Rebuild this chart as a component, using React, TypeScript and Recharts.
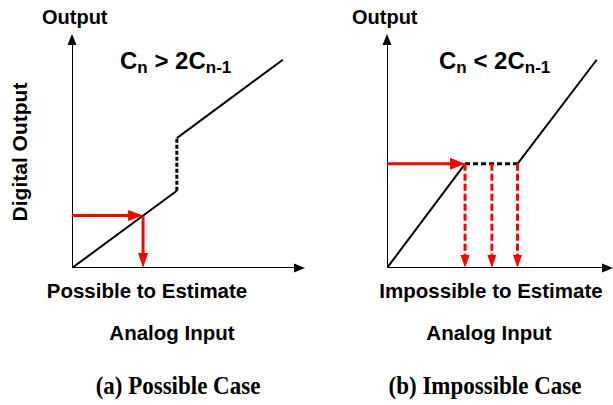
import React from "react";
import { LineChart, Line, XAxis, YAxis, ReferenceDot } from "recharts";

type Pt = { x: number; y: number };

// Panel (a): gap between segments is a step up, so each output maps back to one input
const aLow: Pt[] = [{ x: 0, y: 0 }, { x: 4.5, y: 3.3 }];
const aJump: Pt[] = [{ x: 4.5, y: 3.3 }, { x: 4.5, y: 5.55 }];
const aHigh: Pt[] = [{ x: 4.5, y: 5.55 }, { x: 9.05, y: 8.9 }];
const aEstimate: Pt = { x: 3.05, y: 2.24 };

// Panel (b): flat stretch, one output code covers several inputs
const bLow: Pt[] = [{ x: 0, y: 0 }, { x: 3.35, y: 4.45 }];
const bFlat: Pt[] = [{ x: 3.35, y: 4.45 }, { x: 5.6, y: 4.45 }];
const bHigh: Pt[] = [{ x: 5.6, y: 4.45 }, { x: 9.0, y: 8.9 }];
const bLevel = 4.45;
const bDrops: number[] = [3.35, 4.5, 5.6];

const xAxisEnd = [10, 9.7];
const yAxisEnd = 10;

const SANS = "'Liberation Sans', Arial, sans-serif";
const SERIF = "'Liberation Serif', 'Times New Roman', serif";
const RED = "#ff0000";

type Dir = "up" | "down" | "right";

const arrowHead = (dir: Dir, color: string, len: number, half: number) =>
  (props: any) => {
    const { cx, cy } = props;
    let pts = "";
    if (dir === "up") pts = `${cx},${cy} ${cx - half},${cy + len} ${cx + half},${cy + len}`;
    if (dir === "down") pts = `${cx},${cy} ${cx - half},${cy - len} ${cx + half},${cy - len}`;
    if (dir === "right") pts = `${cx},${cy} ${cx - len},${cy - half} ${cx - len},${cy + half}`;
    return <polygon points={pts} fill={color} stroke="none" />;
  };

const seg = (key: string, data: Pt[], color: string, width: number, dash?: string) => (
  <Line
    key={key}
    data={data}
    dataKey="y"
    type="linear"
    stroke={color}
    strokeWidth={width}
    strokeDasharray={dash}
    strokeLinecap="butt"
    dot={false}
    activeDot={false}
    isAnimationActive={false}
  />
);

function Axes({ xEnd }: { xEnd: number }) {
  return [
    seg("ax", [{ x: 0, y: 0 }, { x: xEnd - 0.2, y: 0 }], "#000", 2),
    seg("ay", [{ x: 0, y: 0 }, { x: 0, y: yAxisEnd - 0.2 }], "#000", 2),
  ];
}

const chartMargin = { top: 34, right: 5, bottom: 32, left: 72 };

function PanelA() {
  return (
    <LineChart width={310} height={300} margin={chartMargin}>
      <XAxis type="number" dataKey="x" domain={[0, 10]} hide allowDataOverflow />
      <YAxis type="number" dataKey="y" domain={[0, 10]} hide allowDataOverflow />
      {Axes({ xEnd: xAxisEnd[0] })}
      {seg("low", aLow, "#000", 2)}
      {seg("jump", aJump, "#000", 3, "4 2")}
      {seg("high", aHigh, "#000", 2)}
      {seg("inH", [{ x: 0, y: aEstimate.y }, { x: aEstimate.x - 0.3, y: aEstimate.y }], RED, 3)}
      {seg("inV", [{ x: aEstimate.x, y: aEstimate.y }, { x: aEstimate.x, y: 0.3 }], RED, 3)}
      <ReferenceDot x={0} y={yAxisEnd} r={1} shape={arrowHead("up", "#000", 11, 4.5)} />
      <ReferenceDot x={xAxisEnd[0]} y={0} r={1} shape={arrowHead("right", "#000", 11, 4.5)} />
      <ReferenceDot x={aEstimate.x} y={aEstimate.y} r={1} shape={arrowHead("right", RED, 15, 5.5)} />
      <ReferenceDot x={aEstimate.x} y={0} r={1} shape={arrowHead("down", RED, 15, 5)} />
    </LineChart>
  );
}

function PanelB() {
  return (
    <LineChart width={310} height={300} margin={chartMargin}>
      <XAxis type="number" dataKey="x" domain={[0, 10]} hide allowDataOverflow />
      <YAxis type="number" dataKey="y" domain={[0, 10]} hide allowDataOverflow />
      {Axes({ xEnd: xAxisEnd[1] })}
      {seg("low", bLow, "#000", 2)}
      {seg("flat", bFlat, "#000", 3, "5 3")}
      {seg("high", bHigh, "#000", 2)}
      {seg("inH", [{ x: 0, y: bLevel }, { x: bDrops[0] - 0.3, y: bLevel }], RED, 3)}
      {bDrops.map((d, i) =>
        seg(`drop${i}`, [{ x: d, y: bLevel }, { x: d, y: 0.3 }], RED, 3, "7 3")
      )}
      <ReferenceDot x={0} y={yAxisEnd} r={1} shape={arrowHead("up", "#000", 11, 4.5)} />
      <ReferenceDot x={xAxisEnd[1]} y={0} r={1} shape={arrowHead("right", "#000", 11, 4.5)} />
      <ReferenceDot x={bDrops[0]} y={bLevel} r={1} shape={arrowHead("right", RED, 15, 6)} />
      {bDrops.map((d, i) => (
        <ReferenceDot key={i} x={d} y={0} r={1} shape={arrowHead("down", RED, 13, 4.5)} />
      ))}
    </LineChart>
  );
}

function Relation({ x, op }: { x: number; op: string }) {
  return (
    <text x={x} y={69} fontFamily={SANS} fontWeight="bold" fontSize={24} fill="#000">
      C<tspan fontSize={17} dy={4}>n</tspan>
      <tspan dy={-4}>{` ${op} 2C`}</tspan>
      <tspan fontSize={17} dy={4}>n-1</tspan>
    </text>
  );
}

export default function App() {
  return (
    <div
      style={{
        position: "absolute",
        left: 0,
        top: 0,
        width: 613,
        height: 405,
        background: "#fff",
        overflow: "hidden",
      }}
    >
      <div style={{ position: "absolute", left: 0, top: 0 }}>
        <PanelA />
      </div>
      <div style={{ position: "absolute", left: 315, top: 0 }}>
        <PanelB />
      </div>
      <svg
        width={613}
        height={405}
        style={{ position: "absolute", left: 0, top: 0, pointerEvents: "none" }}
      >
        <g fontFamily={SANS} fontWeight="bold" fill="#000" fontSize={20}>
          <text x={42} y={24}>Output</text>
          <text x={352} y={24}>Output</text>
          <text
            transform="translate(27,152) rotate(-90)"
            textAnchor="middle"
            fontSize={21}
          >
            Digital Output
          </text>
          <text x={147} y={298} fontSize={20.5} textAnchor="middle">Possible to Estimate</text>
          <text x={491} y={298} fontSize={20.5} textAnchor="middle">Impossible to Estimate</text>
          <text x={172} y={340} fontSize={20.5} textAnchor="middle">Analog Input</text>
          <text x={489} y={340} fontSize={20.5} textAnchor="middle">Analog Input</text>
        </g>
        <Relation x={120} op=">" />
        <Relation x={439} op="<" />
        <g fontFamily={SERIF} fontWeight="bold" fill="#000" fontSize={23}>
          <text transform="translate(178,394) scale(1,1.12)" textAnchor="middle">(a) Possible Case</text>
          <text transform="translate(485,394) scale(1,1.12)" textAnchor="middle">(b) Impossible Case</text>
        </g>
      </svg>
    </div>
  );
}
